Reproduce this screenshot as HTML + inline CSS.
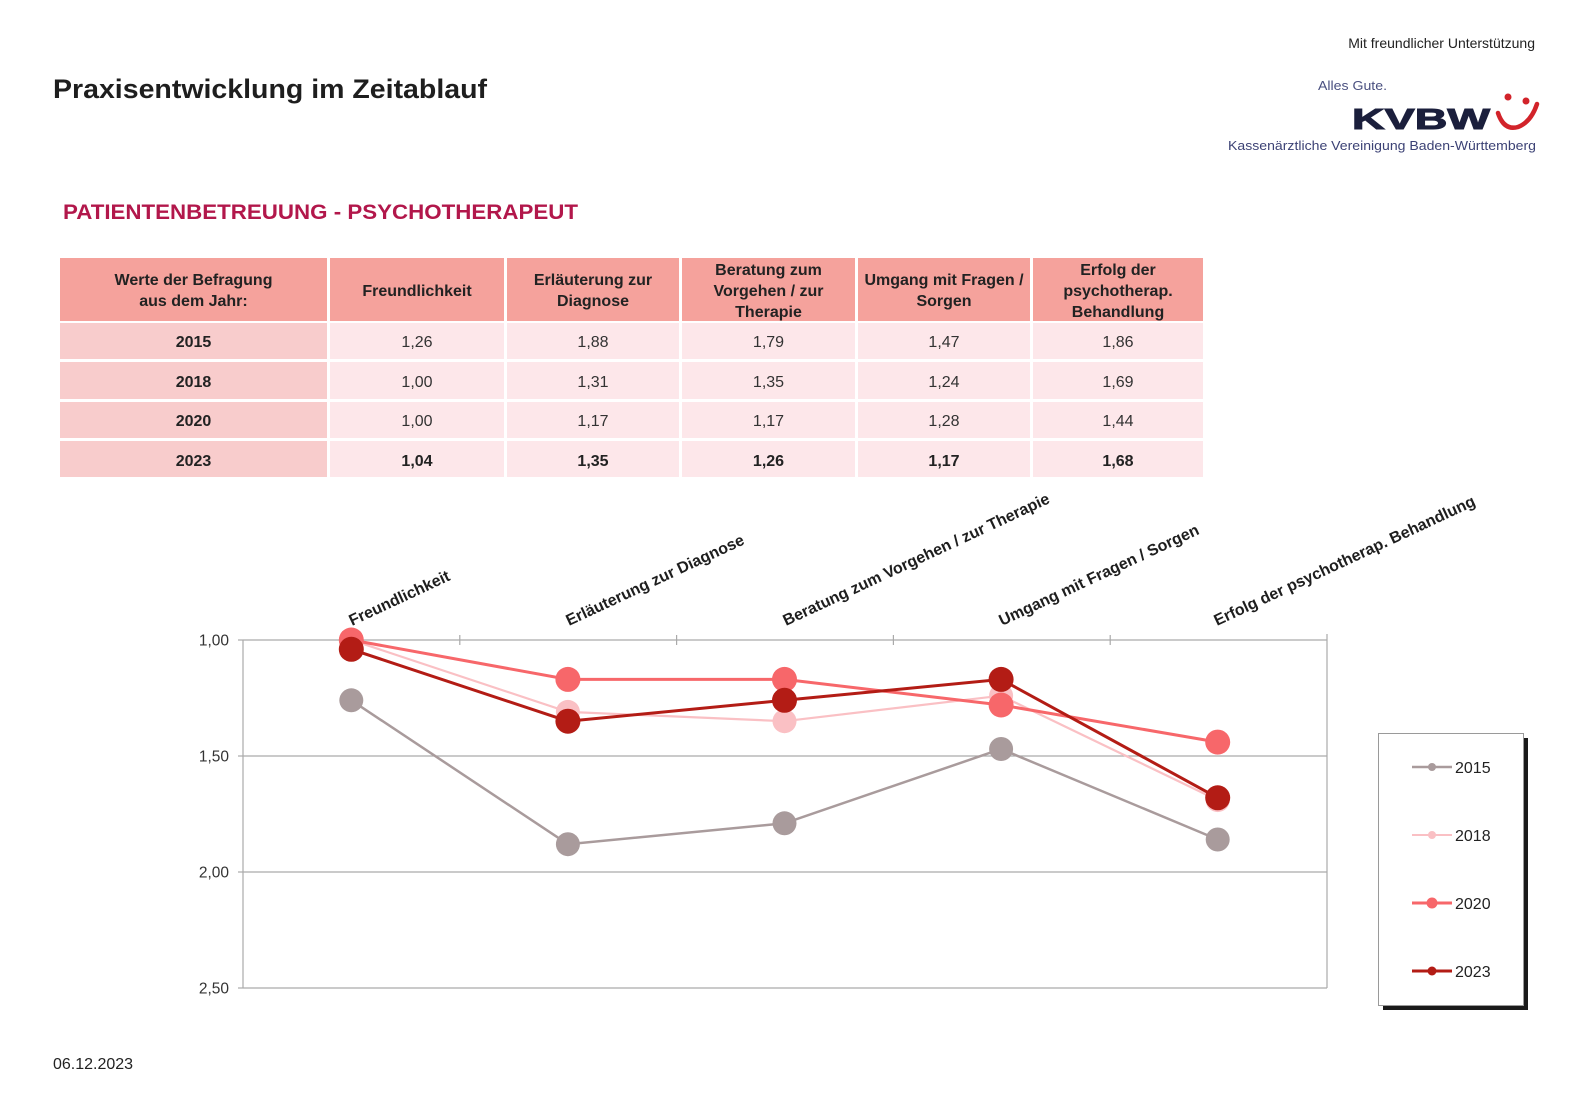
<!DOCTYPE html>
<html><head><meta charset="utf-8"><style>
html,body{margin:0;padding:0;background:#fff;}
svg{display:block;}
text{font-family:"Liberation Sans",Arial,sans-serif;}
</style></head><body>
<svg width="1573" height="1099" viewBox="0 0 1573 1099" xmlns="http://www.w3.org/2000/svg">
<rect width="1573" height="1099" fill="#fff"/>

<!-- Header -->
<text x="53" y="98" font-size="27" font-weight="bold" fill="#1e1e1e" textLength="434" lengthAdjust="spacingAndGlyphs">Praxisentwicklung im Zeitablauf</text>
<text x="1535" y="48" font-size="14" fill="#222" text-anchor="end">Mit freundlicher Unterstützung</text>
<text x="1318" y="90" font-size="13" fill="#4a5080" textLength="69" lengthAdjust="spacingAndGlyphs">Alles Gute.</text>
<text x="1352" y="129" font-size="29" font-weight="900" fill="#1b1f3c" textLength="138" lengthAdjust="spacingAndGlyphs" stroke="#1b1f3c" stroke-width="1">KVBW</text>
<circle cx="1508" cy="97" r="3.5" fill="#d2232a"/>
<circle cx="1526" cy="101" r="3.5" fill="#d2232a"/>
<path d="M1498 113 Q1504 131 1518 127 Q1531 122 1537 104" fill="none" stroke="#d2232a" stroke-width="4.5" stroke-linecap="round"/>
<text x="1228" y="150" font-size="13" fill="#3c4275" textLength="308" lengthAdjust="spacingAndGlyphs">Kassenärztliche Vereinigung Baden-Württemberg</text>

<text x="63" y="219" font-size="21" font-weight="bold" fill="#b2174b" textLength="515" lengthAdjust="spacingAndGlyphs">PATIENTENBETREUUNG - PSYCHOTHERAPEUT</text>

<!-- Table -->
<g>
<rect x="60" y="258" width="267" height="63" fill="#f5a29c"/>
<rect x="330" y="258" width="174" height="63" fill="#f5a29c"/>
<rect x="507" y="258" width="172" height="63" fill="#f5a29c"/>
<rect x="682" y="258" width="173" height="63" fill="#f5a29c"/>
<rect x="858" y="258" width="172" height="63" fill="#f5a29c"/>
<rect x="1033" y="258" width="170" height="63" fill="#f5a29c"/>

<g fill="#f8cccc">
<rect x="60" y="323" width="267" height="36"/>
<rect x="60" y="362" width="267" height="37"/>
<rect x="60" y="402" width="267" height="36"/>
<rect x="60" y="441" width="267" height="36"/>
</g>
<g fill="#fde7ea">
<rect x="330" y="323" width="174" height="36"/><rect x="507" y="323" width="172" height="36"/><rect x="682" y="323" width="173" height="36"/><rect x="858" y="323" width="172" height="36"/><rect x="1033" y="323" width="170" height="36"/>
<rect x="330" y="362" width="174" height="37"/><rect x="507" y="362" width="172" height="37"/><rect x="682" y="362" width="173" height="37"/><rect x="858" y="362" width="172" height="37"/><rect x="1033" y="362" width="170" height="37"/>
<rect x="330" y="402" width="174" height="36"/><rect x="507" y="402" width="172" height="36"/><rect x="682" y="402" width="173" height="36"/><rect x="858" y="402" width="172" height="36"/><rect x="1033" y="402" width="170" height="36"/>
<rect x="330" y="441" width="174" height="36"/><rect x="507" y="441" width="172" height="36"/><rect x="682" y="441" width="173" height="36"/><rect x="858" y="441" width="172" height="36"/><rect x="1033" y="441" width="170" height="36"/>
</g>

<g font-size="16" font-weight="bold" fill="#222" text-anchor="middle">
<text x="193.5" y="285">Werte der Befragung</text>
<text x="193.5" y="306">aus dem Jahr:</text>
<text x="417" y="296">Freundlichkeit</text>
<text x="593" y="285">Erläuterung zur</text>
<text x="593" y="306">Diagnose</text>
<text x="768.5" y="275">Beratung zum</text>
<text x="768.5" y="296">Vorgehen / zur</text>
<text x="768.5" y="317">Therapie</text>
<text x="944" y="285">Umgang mit Fragen /</text>
<text x="944" y="306">Sorgen</text>
<text x="1118" y="275">Erfolg der</text>
<text x="1118" y="296">psychotherap.</text>
<text x="1118" y="317">Behandlung</text>
<text x="193.5" y="347">2015</text>
<text x="193.5" y="387">2018</text>
<text x="193.5" y="426">2020</text>
<text x="193.5" y="466">2023</text>
</g>
<g font-size="16" fill="#333" text-anchor="middle">
<text x="417" y="347">1,26</text><text x="593" y="347">1,88</text><text x="768.5" y="347">1,79</text><text x="944" y="347">1,47</text><text x="1118" y="347">1,86</text>
<text x="417" y="387">1,00</text><text x="593" y="387">1,31</text><text x="768.5" y="387">1,35</text><text x="944" y="387">1,24</text><text x="1118" y="387">1,69</text>
<text x="417" y="426">1,00</text><text x="593" y="426">1,17</text><text x="768.5" y="426">1,17</text><text x="944" y="426">1,28</text><text x="1118" y="426">1,44</text>
</g>
<g font-size="16" font-weight="bold" fill="#222" text-anchor="middle">
<text x="417" y="466">1,04</text><text x="593" y="466">1,35</text><text x="768.5" y="466">1,26</text><text x="944" y="466">1,17</text><text x="1118" y="466">1,68</text>
</g>
</g>

<!-- Chart grid -->
<g stroke="#aaaaaa" stroke-width="1.2" fill="none">
<line x1="243" y1="640" x2="1327" y2="640"/>
<line x1="243" y1="756" x2="1327" y2="756"/>
<line x1="243" y1="872" x2="1327" y2="872"/>
<line x1="243" y1="988" x2="1327" y2="988"/>
<line x1="243" y1="640" x2="243" y2="988"/>
<line x1="1327" y1="634" x2="1327" y2="988"/>
<line x1="238" y1="640" x2="243" y2="640"/>
<line x1="238" y1="756" x2="243" y2="756"/>
<line x1="238" y1="872" x2="243" y2="872"/>
<line x1="238" y1="988" x2="243" y2="988"/>
<line x1="459.8" y1="635" x2="459.8" y2="645"/>
<line x1="676.6" y1="635" x2="676.6" y2="645"/>
<line x1="893.4" y1="635" x2="893.4" y2="645"/>
<line x1="1110.2" y1="635" x2="1110.2" y2="645"/>
</g>
<g font-size="15.5" fill="#333" text-anchor="end">
<text x="229" y="645.5">1,00</text>
<text x="229" y="761.5">1,50</text>
<text x="229" y="877.5">2,00</text>
<text x="229" y="993.5">2,50</text>
</g>

<!-- Category labels -->
<g font-size="16" font-weight="bold" fill="#1e1e1e">
<text transform="translate(352,626) rotate(-25)">Freundlichkeit</text>
<text transform="translate(569,626) rotate(-25)">Erläuterung zur Diagnose</text>
<text transform="translate(786,626) rotate(-25)">Beratung zum Vorgehen / zur Therapie</text>
<text transform="translate(1002,626) rotate(-25)">Umgang mit Fragen / Sorgen</text>
<text transform="translate(1217,626) rotate(-25)">Erfolg der psychotherap. Behandlung</text>
</g>

<!-- Series 2015 -->
<g fill="#a99b9c">
<polyline points="351.3,700.3 567.9,844.2 784.5,823.3 1001.1,749 1217.7,839.5" fill="none" stroke="#a99b9c" stroke-width="2.5"/>
<circle cx="351.3" cy="700.3" r="12"/><circle cx="567.9" cy="844.2" r="12"/><circle cx="784.5" cy="823.3" r="12"/><circle cx="1001.1" cy="749" r="12"/><circle cx="1217.7" cy="839.5" r="12"/>
</g>
<!-- Series 2018 -->
<g fill="#fac0c4">
<polyline points="351.3,640 567.9,711.9 784.5,721.2 1001.1,695.7 1217.7,800.1" fill="none" stroke="#fac0c4" stroke-width="2.2"/>
<circle cx="351.3" cy="640" r="12"/><circle cx="567.9" cy="711.9" r="12"/><circle cx="784.5" cy="721.2" r="12"/><circle cx="1001.1" cy="695.7" r="12"/><circle cx="1217.7" cy="800.1" r="12"/>
</g>
<!-- Series 2020 -->
<g fill="#f7676a">
<polyline points="351.3,640 567.9,679.4 784.5,679.4 1001.1,705 1217.7,742.1" fill="none" stroke="#f7676a" stroke-width="3"/>
<circle cx="351.3" cy="640" r="12.5"/><circle cx="567.9" cy="679.4" r="12.5"/><circle cx="784.5" cy="679.4" r="12.5"/><circle cx="1001.1" cy="705" r="12.5"/><circle cx="1217.7" cy="742.1" r="12.5"/>
</g>
<!-- Series 2023 -->
<g fill="#b31c15">
<polyline points="351.3,649.3 567.9,721.2 784.5,700.3 1001.1,679.4 1217.7,797.8" fill="none" stroke="#b31c15" stroke-width="3"/>
<circle cx="351.3" cy="649.3" r="12.5"/><circle cx="567.9" cy="721.2" r="12.5"/><circle cx="784.5" cy="700.3" r="12.5"/><circle cx="1001.1" cy="679.4" r="12.5"/><circle cx="1217.7" cy="797.8" r="12.5"/>
</g>

<!-- Legend -->
<rect x="1383" y="738" width="145" height="272" fill="#1a1a1a"/>
<rect x="1378.5" y="733.5" width="145" height="272" fill="#fff" stroke="#9a9a9a" stroke-width="1"/>
<g font-size="16" fill="#222">
<line x1="1412" y1="767" x2="1452" y2="767" stroke="#a99b9c" stroke-width="2.5"/><circle cx="1432" cy="767" r="4" fill="#a99b9c"/>
<text x="1455" y="773">2015</text>
<line x1="1412" y1="835" x2="1452" y2="835" stroke="#fac0c4" stroke-width="2"/><circle cx="1432" cy="835" r="4" fill="#fac0c4"/>
<text x="1455" y="841">2018</text>
<line x1="1412" y1="903" x2="1452" y2="903" stroke="#f7676a" stroke-width="3"/><circle cx="1432" cy="903" r="5.5" fill="#f7676a"/>
<text x="1455" y="909">2020</text>
<line x1="1412" y1="971" x2="1452" y2="971" stroke="#b31c15" stroke-width="3"/><circle cx="1432" cy="971" r="4.5" fill="#b31c15"/>
<text x="1455" y="977">2023</text>
</g>

<text x="53" y="1069" font-size="16" fill="#222">06.12.2023</text>
</svg>
</body></html>
